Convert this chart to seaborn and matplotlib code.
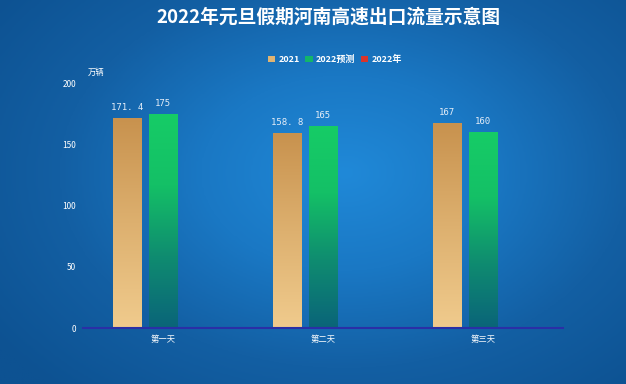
"""2022年元旦假期河南高速出口流量示意图."""

import matplotlib.pyplot as plt
import numpy as np
import pandas as pd
import seaborn as sns
from matplotlib.colors import LinearSegmentedColormap
from matplotlib.patches import Patch

sns.set_style("white")
plt.rcParams["font.family"] = ["Noto Sans CJK SC", "DejaVu Sans"]

days = ["第一天", "第二天", "第三天"]
series = ["2021", "2022预测", "2022年"]
v2021 = [171.4, 158.8, 167]
v2022_forecast = [175, 165, 160]
v2022 = [np.nan, np.nan, np.nan]

df = pd.DataFrame(
    {
        "day": days * 3,
        "series": [series[0]] * 3 + [series[1]] * 3 + [series[2]] * 3,
        "value": v2021 + v2022_forecast + v2022,
    }
)

# top -> bottom gradients for each series
grads = {
    "2021": ["#c8924e", "#ddb06f", "#f0cb8d"],
    "2022预测": ["#16cc66", "#14c066", "#0f8c70", "#0a6479"],
    "2022年": ["#d9342b", "#d9342b"],
}
legend_cols = {"2021": "#e0b472", "2022预测": "#13b56a", "2022年": "#d9342b"}

fig = plt.figure(figsize=(6.26, 3.84), dpi=100)

# radial background
bg = fig.add_axes([0, 0, 1, 1])
yy, xx = np.mgrid[-1:1:200j, -1:1:320j]
r = np.sqrt(((xx - 0.1) * 0.95) ** 2 + ((yy + 0.1) * 0.85) ** 2)
bg_cmap = LinearSegmentedColormap.from_list(
    "bg", ["#2089d8", "#1a78c4", "#135fa3", "#0d5292"]
)
bg.imshow(r, cmap=bg_cmap, aspect="auto", extent=[0, 1, 0, 1], vmin=0, vmax=1.3)
bg.set_axis_off()

ax = fig.add_axes([0.1326, 0.1458, 0.7668, 0.6380])
ax.set_facecolor("none")
sns.barplot(
    data=df,
    x="day",
    y="value",
    hue="series",
    order=days,
    hue_order=series,
    width=0.675,
    gap=0.21,
    errorbar=None,
    legend=False,
    ax=ax,
)

for cont, name in zip(ax.containers, series):
    cmap = LinearSegmentedColormap.from_list(name, grads[name])
    for bar, val in zip(cont, df.loc[df["series"] == name, "value"]):
        if np.isnan(val):
            continue
        x0, w, h = bar.get_x(), bar.get_width(), bar.get_height()
        bar.set_facecolor("none")
        bar.set_edgecolor("none")
        grad = np.linspace(0, 1, 256)[:, None]
        im = ax.imshow(
            grad,
            cmap=cmap,
            aspect="auto",
            extent=[x0, x0 + w, 0, h],
            origin="upper",
            zorder=2,
        )
        im.set_clip_path(bar)
        ax.text(
            x0 + w / 2,
            h + 5,
            f"{val:g}".replace(".", ". "),
            ha="center",
            va="bottom",
            color="#e6eef8",
            fontsize=6.5,
            family=["DejaVu Sans Mono", "DejaVu Sans"],
        )

ax.set_xlim(-0.5, 2.5)
ax.set_ylim(0, 200)
ax.set_yticks([0, 50, 100, 150, 200])
ax.set_xlabel("")
ax.set_ylabel("")
ax.tick_params(axis="both", colors="white", labelsize=6, length=0, pad=5)
for side in ["top", "right", "left"]:
    ax.spines[side].set_visible(False)
ax.spines["bottom"].set_color("#2a2fa6")
ax.spines["bottom"].set_linewidth(1.5)
ax.text(0.01, 1.045, "万辆", transform=ax.transAxes, color="white",
        fontsize=6, ha="left", va="center")

fig.text(0.525, 0.955, "2022年元旦假期河南高速出口流量示意图", ha="center",
         va="center", color="white", fontsize=13.5, fontweight="bold")

handles = [Patch(facecolor=legend_cols[s], edgecolor="none") for s in series]
fig.legend(
    handles,
    series,
    loc="center",
    bbox_to_anchor=(0.535, 0.845),
    ncol=3,
    frameon=False,
    labelcolor="white",
    handlelength=0.8,
    handleheight=0.8,
    handletextpad=0.4,
    columnspacing=0.6,
    prop={"weight": "bold", "size": 6.5},
)

fig.savefig("out.png", dpi=100)
